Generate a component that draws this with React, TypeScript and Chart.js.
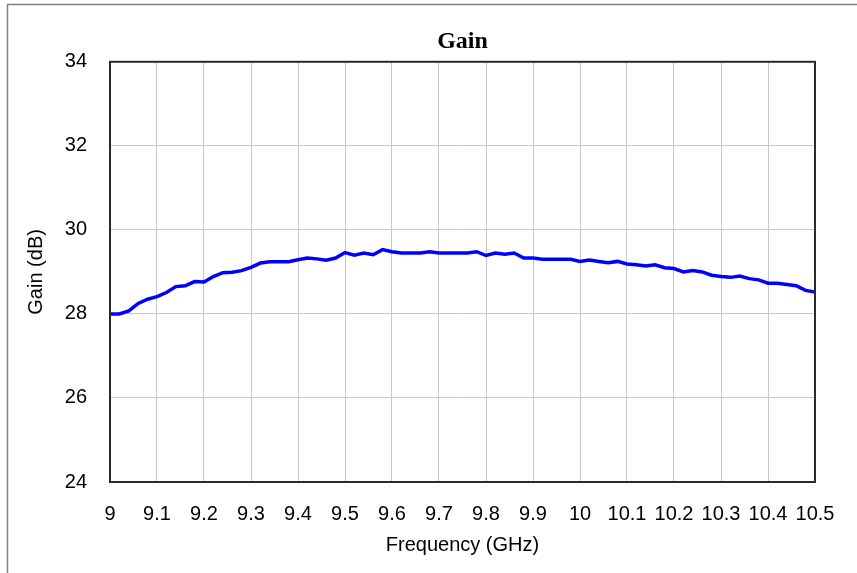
import React, { useEffect, useRef } from "react";
import { Chart, registerables } from "chart.js";

Chart.register(...registerables);

const frequencies = [
  9.0, 9.02, 9.04, 9.06, 9.08, 9.1, 9.12, 9.14, 9.16, 9.18,
  9.2, 9.22, 9.24, 9.26, 9.28, 9.3, 9.32, 9.34, 9.36, 9.38,
  9.4, 9.42, 9.44, 9.46, 9.48, 9.5, 9.52, 9.54, 9.56, 9.58,
  9.6, 9.62, 9.64, 9.66, 9.68, 9.7, 9.72, 9.74, 9.76, 9.78,
  9.8, 9.82, 9.84, 9.86, 9.88, 9.9, 9.92, 9.94, 9.96, 9.98,
  10.0, 10.02, 10.04, 10.06, 10.08, 10.1, 10.12, 10.14, 10.16, 10.18,
  10.2, 10.22, 10.24, 10.26, 10.28, 10.3, 10.32, 10.34, 10.36, 10.38,
  10.4, 10.42, 10.44, 10.46, 10.48, 10.5,
];

const gainValues = [
  28.0, 28.0, 28.07, 28.25, 28.35, 28.41, 28.51, 28.65, 28.67, 28.77,
  28.76, 28.89, 28.98, 28.99, 29.03, 29.11, 29.21, 29.24, 29.24, 29.24,
  29.29, 29.33, 29.31, 29.28, 29.33, 29.46, 29.4, 29.45, 29.41, 29.53,
  29.48, 29.45, 29.45, 29.45, 29.48, 29.45, 29.45, 29.45, 29.45, 29.48,
  29.39, 29.45, 29.42, 29.45, 29.33, 29.33, 29.3, 29.3, 29.3, 29.3,
  29.25, 29.28, 29.25, 29.22, 29.25, 29.19, 29.17, 29.14, 29.17, 29.1,
  29.08, 29.0, 29.03, 29.0, 28.92, 28.89, 28.87, 28.9, 28.84, 28.81,
  28.73, 28.73, 28.7, 28.67, 28.56, 28.52,
];

const chartTitle = "Gain";
const xTitle = "Frequency (GHz)";
const yTitle = "Gain (dB)";
const xMin = 9;
const xMax = 10.5;
const xStep = 0.1;
const yMin = 24;
const yMax = 34;
const yStep = 2;

const SANS = "'Liberation Sans', Arial, sans-serif";
const SERIF = "'Liberation Serif', 'Times New Roman', serif";

const framePlugin = {
  id: "frameAndBorder",
  beforeDraw(chart: any) {
    const ctx = chart.ctx;
    ctx.save();
    ctx.fillStyle = "#ffffff";
    ctx.fillRect(0, 0, chart.width, chart.height);
    ctx.strokeStyle = "#808080";
    ctx.lineWidth = 1.5;
    ctx.strokeRect(7.5, 4.5, chart.width + 20, chart.height + 20);
    ctx.restore();
  },
  afterDatasetsDraw(chart: any) {
    const { ctx, chartArea } = chart;
    ctx.save();
    ctx.strokeStyle = "#2a2a2a";
    ctx.lineWidth = 2;
    ctx.strokeRect(
      chartArea.left,
      chartArea.top,
      chartArea.right - chartArea.left,
      chartArea.bottom - chartArea.top
    );
    ctx.restore();
  },
};

export default function App() {
  const canvasRef = useRef<HTMLCanvasElement | null>(null);

  useEffect(() => {
    const canvas = canvasRef.current;
    if (!canvas) return;
    const data = frequencies.map((f, i) => ({ x: f, y: gainValues[i] }));
    const chart = new Chart(canvas, {
      type: "line",
      data: {
        datasets: [
          {
            label: yTitle,
            data,
            borderColor: "#0000ff",
            backgroundColor: "#0000ff",
            borderWidth: 3.5,
            pointRadius: 0,
            tension: 0,
            fill: false,
          },
        ],
      },
      options: {
        responsive: false,
        animation: false,
        layout: { padding: { left: 0, right: 42, top: 0, bottom: 0 } },
        plugins: {
          legend: { display: false },
          tooltip: { enabled: false },
          title: {
            display: true,
            fullSize: false,
            text: chartTitle,
            color: "#000000",
            font: { family: SERIF, size: 24, weight: "bold" },
            padding: { top: 27, bottom: 6 },
          },
        },
        scales: {
          x: {
            type: "linear",
            min: xMin,
            max: xMax,
            afterFit: (axis: any) => {
              axis.height = 91;
            },
            ticks: {
              stepSize: xStep,
              color: "#000000",
              font: { family: SANS, size: 20 },
              padding: 20,
              maxRotation: 0,
              autoSkip: false,
              callback: (v: any) => String(Number(Number(v).toFixed(1))),
            },
            grid: { color: "#c8c8c8", lineWidth: 1, drawTicks: false },
            border: { display: false },
            title: {
              display: true,
              text: xTitle,
              color: "#000000",
              font: { family: SANS, size: 20 },
              padding: { top: 0, bottom: 16 },
            },
          },
          y: {
            type: "linear",
            min: yMin,
            max: yMax,
            afterFit: (axis: any) => {
              axis.width = 110;
            },
            ticks: {
              stepSize: yStep,
              color: "#000000",
              font: { family: SANS, size: 20 },
              padding: 23,
            },
            grid: { color: "#c8c8c8", lineWidth: 1, drawTicks: false },
            border: { display: false },
            title: {
              display: true,
              text: yTitle,
              color: "#000000",
              font: { family: SANS, size: 20 },
              padding: { top: 24, bottom: 0 },
            },
          },
        },
      },
      plugins: [framePlugin],
    });
    return () => chart.destroy();
  }, []);

  return (
    <canvas
      ref={canvasRef}
      width={857}
      height={573}
      style={{ position: "absolute", left: 0, top: 0, width: 857, height: 573, display: "block" }}
    />
  );
}
